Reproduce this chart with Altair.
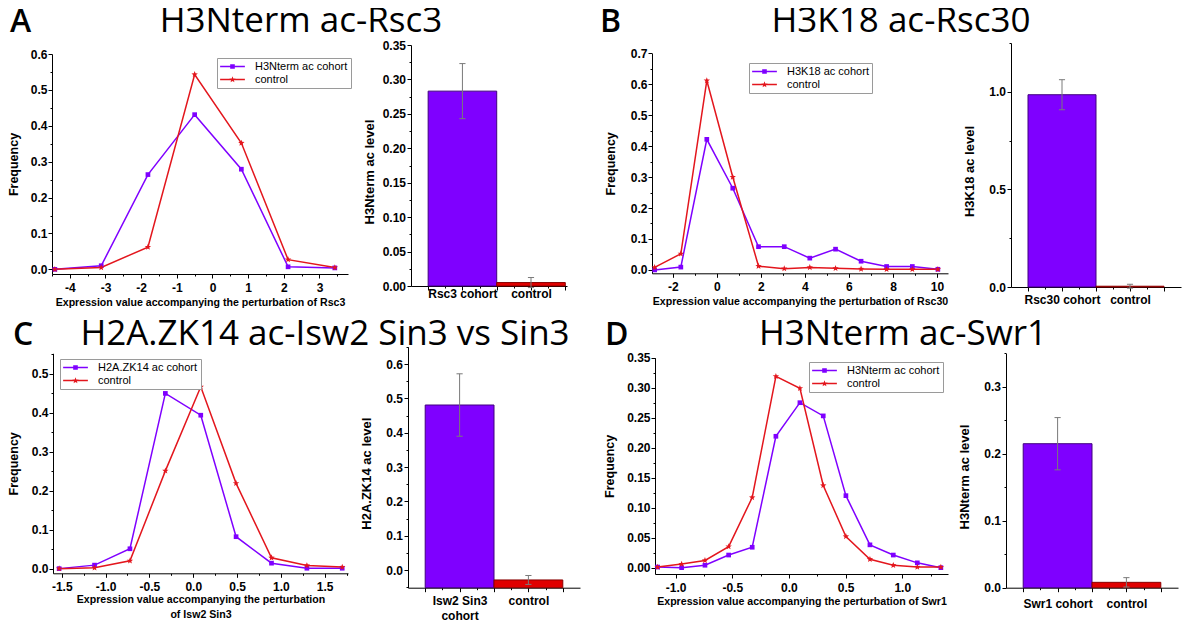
import json
import math
import altair as alt
import pandas as pd

FONT = "Liberation Sans"
TITLE_FONT = "Open Sans"
LINE_COLORS = ["#7F00FF", "#E3161D"]
BAR_FILLS = ["#7F00FF", "#E00000"]
BAR_EDGES = ["#40007F", "#8A0000"]
ERR_COLOR = "#7A7A7A"
M = 8  # page margin: layout numbers below are page pixels

# ---------------------------------------------------------------- data
# Panel A
A_letter = "A"
A_title = "H3Nterm ac-Rsc3"
A_series = ["H3Nterm ac cohort", "control"]
A_x = [-4.42, -3.12, -1.81, -0.50, 0.81, 2.12, 3.43]
A_cohort = [0.000, 0.010, 0.264, 0.431, 0.279, 0.007, 0.004]
A_control = [0.000, 0.005, 0.062, 0.543, 0.352, 0.027, 0.005]
A_xtitle = "Expression value accompanying the perturbation of Rsc3"
A_cats = ["Rsc3 cohort", "control"]
A_vals = [0.283, 0.005]
A_errs = [0.040, 0.0073]
A_ytitle = "H3Nterm ac level"

# Panel B
B_letter = "B"
B_title = "H3K18 ac-Rsc30"
B_series = ["H3K18 ac cohort", "control"]
B_x = [-2.83, -1.64, -0.46, 0.72, 1.89, 3.06, 4.22, 5.39, 6.55, 7.71, 8.88, 10.04]
B_cohort = [0.000, 0.009, 0.422, 0.264, 0.075, 0.075, 0.038, 0.067, 0.028, 0.011, 0.011, 0.002]
B_control = [0.008, 0.052, 0.612, 0.300, 0.012, 0.004, 0.008, 0.005, 0.003, 0.002, 0.002, 0.002]
B_xtitle = "Expression value accompanying the perturbation of Rsc30"
B_cats = ["Rsc30 cohort", "control"]
B_vals = [0.985, 0.004]
B_errs = [0.077, 0.010]
B_ytitle = "H3K18 ac level"

# Panel C
C_letter = "C"
C_title = "H2A.ZK14 ac-Isw2 Sin3 vs Sin3"
C_series = ["H2A.ZK14 ac cohort", "control"]
C_x = [-1.53, -1.126, -0.722, -0.318, 0.086, 0.489, 0.893, 1.297, 1.70]
C_cohort = [0.000, 0.009, 0.051, 0.450, 0.394, 0.082, 0.014, 0.001, 0.001]
C_control = [0.000, 0.002, 0.020, 0.251, 0.467, 0.219, 0.028, 0.008, 0.004]
C_xtitle = ["Expression value accompanying the perturbation", "of Isw2 Sin3"]
C_cats = ["Isw2 Sin3\ncohort", "control"]
C_vals = [0.481, -0.029]
C_errs = [0.091, 0.013]
C_ytitle = "H2A.ZK14 ac level"

# Panel D
D_letter = "D"
D_title = "H3Nterm ac-Swr1"
D_series = ["H3Nterm ac cohort", "control"]
D_x = [-1.159, -0.947, -0.741, -0.532, -0.324, -0.115, 0.097, 0.303, 0.503, 0.715, 0.921, 1.133, 1.341]
D_cohort = [0.001, 0.000, 0.004, 0.021, 0.034, 0.219, 0.275, 0.253, 0.120, 0.038, 0.021, 0.008, 0.000]
D_control = [0.001, 0.006, 0.012, 0.035, 0.117, 0.319, 0.299, 0.137, 0.052, 0.014, 0.004, 0.001, 0.001]
D_xtitle = "Expression value accompanying the perturbation of Swr1"
D_cats = ["Swr1 cohort", "control"]
D_vals = [0.215, 0.008]
D_errs = [0.039, 0.007]
D_ytitle = "H3Nterm ac level"


# ---------------------------------------------------------------- helpers
def star_path(r_out, r_in):
    pts = []
    for k in range(10):
        ang = -math.pi / 2 + k * math.pi / 5
        r = r_out if k % 2 == 0 else r_in
        pts.append((r * math.cos(ang), r * math.sin(ang)))
    return "M" + "L".join(f"{x:.3f},{y:.3f}" for x, y in pts) + "Z"


STAR = star_path(1.0, 0.42)
SEG = "M-2.25,-0.12L2.25,-0.12L2.25,0.12L-2.25,0.12Z"
LEG_SQUARE = SEG + "M-0.42,-0.42L0.42,-0.42L0.42,0.42L-0.42,0.42Z"
LEG_STAR = SEG + star_path(0.6, 0.25)


def ticks(lo, hi, step):
    n = int(round((hi - lo) / step))
    return [round(lo + i * step, 6) for i in range(n + 1)]


def major_test(step):
    return f"abs(datum.value / {step} - round(datum.value / {step})) < 1e-6"


def q_axis(lo, hi, minor, major, fmt, **kw):
    test = major_test(major)
    return alt.Axis(
        values=ticks(lo, hi, minor),
        format=fmt,
        labelExpr=f"{test} ? replace(datum.label, '\u2212', '-') : ''",
        tickSize={"condition": {"test": test, "value": 4}, "value": 2},
        labelOverlap=False, labelFlush=False, grid=False, **kw)


def rng(a, b):
    return [a - M, b - M]


def line_panel(series, xs, cohort, control, xtitle, L):
    x0, x1 = L["xr"]
    yb, yt = L["yr"]
    xsc = alt.Scale(domain=L["xdom"], range=rng(x0, x1), nice=False, zero=False)
    ysc = alt.Scale(domain=L["ydom"], range=rng(yb, yt), nice=False, zero=False)
    xaxis = q_axis(*L["xticks"], L["xfmt"], orient="bottom", offset=(yb - M) - H,
                   title=xtitle, titleFontSize=10.6,
                   titleX=(x0 + x1) / 2 - M, titleY=L["xty"], titleBaseline="top",
                   titleLineHeight=15, labelPadding=4)
    yaxis = q_axis(*L["yticks"], L["yfmt"], orient="left", offset=-(x0 - M),
                   title="Frequency", titleFontSize=12.5,
                   titleX=L["ytx"], titleY=(yb + yt) / 2 - M, titleAngle=270,
                   titleBaseline="bottom", labelPadding=1)
    X_ax = alt.X("x:Q", scale=xsc, axis=xaxis)
    Y_ax = alt.Y("y:Q", scale=ysc, axis=yaxis)
    X = alt.X("x:Q", scale=xsc, axis=None)
    Y = alt.Y("y:Q", scale=ysc, axis=None)
    d_coh = pd.DataFrame({"x": xs, "y": cohort, "series": series[0]})
    d_ctl = pd.DataFrame({"x": xs, "y": control, "series": series[1]})
    units = [
        alt.Chart(d_coh).mark_line(color=LINE_COLORS[0], strokeWidth=1.5).encode(x=X_ax, y=Y_ax),
        alt.Chart(d_ctl).mark_line(color=LINE_COLORS[1], strokeWidth=1.5).encode(x=X, y=Y),
        alt.Chart(d_coh).mark_point(shape="square", filled=True, size=22, opacity=1,
                                    color=LINE_COLORS[0]).encode(x=X, y=Y),
        alt.Chart(d_ctl).mark_point(shape=STAR, filled=True, size=45, opacity=1,
                                    color=LINE_COLORS[1]).encode(x=X, y=Y),
    ]
    leg = alt.Legend(title=None, orient="none", legendX=L["leg"][0] - M, legendY=L["leg"][1] - M,
                     labelFont=FONT, labelFontSize=11, labelColor="black",
                     symbolSize=121, symbolStrokeWidth=0, symbolOffset=7, labelOffset=17,
                     padding=3, rowPadding=1, strokeColor="#9a9a9a", fillColor="white",
                     symbolOpacity=1)
    d_all = pd.concat([d_coh, d_ctl], ignore_index=True)
    units.append(
        alt.Chart(d_all).transform_filter("false").mark_point(filled=True, opacity=1).encode(
            x=X, y=Y,
            color=alt.Color("series:N", scale=alt.Scale(domain=series, range=LINE_COLORS),
                            legend=leg),
            shape=alt.Shape("series:N",
                            scale=alt.Scale(domain=series, range=[LEG_SQUARE, LEG_STAR]),
                            legend=leg)))
    return units


def lab(c):
    parts = c.split("\n")
    return json.dumps(parts) if len(parts) > 1 else json.dumps(c)


def bar_panel(cats, vals, errs, ytitle, L):
    k = len(cats)
    df = pd.DataFrame({"cat": cats, "idx": list(range(1, k + 1)), "val": vals, "err": errs})
    base = alt.Chart(df).transform_calculate(
        x0="datum.idx - 0.5", x1="datum.idx + 0.5",
        lo="datum.val - datum.err", hi="datum.val + datum.err",
        c0="datum.idx - 0.045", c1="datum.idx + 0.045")
    x0, x1 = L["xr"]
    yb, yt = L["yr"]
    xs = alt.Scale(domain=L["xdom"], range=rng(x0, x1), nice=False, zero=False)
    ys = alt.Scale(domain=L["ydom"], range=rng(yb, yt), nice=False, zero=False)
    label_expr = "".join(f"datum.value == {i + 1} ? {lab(c)} : " for i, c in enumerate(cats)) + "''"
    xaxis = alt.Axis(values=ticks(0.5, k + 0.5, 0.25), labelExpr=label_expr, orient="bottom",
                     offset=(yb - M) - H,
                     tickSize={"condition": {"test": major_test(0.5), "value": 4}, "value": 2},
                     title=None, labelPadding=L["lpad"], labelOverlap=False, labelFlush=False,
                     labelLineHeight=15, grid=False)
    yaxis = q_axis(*L["yticks"], L["yfmt"], orient="left", offset=-(x0 - M),
                   title=ytitle, titleFontSize=13,
                   titleX=-35, titleY=(yb + yt) / 2 - M + 6, titleAngle=270, titleBaseline="bottom",
                   labelPadding=1.5)
    bars = base.mark_bar(strokeWidth=1, opacity=1).encode(
        x=alt.X("x0:Q", scale=xs, axis=xaxis), x2="x1:Q",
        y=alt.Y("val:Q", scale=ys, axis=yaxis), y2=alt.datum(L["ydom"][0]),
        color=alt.Color("cat:N", scale=alt.Scale(domain=cats, range=BAR_FILLS), legend=None),
        stroke=alt.Stroke("cat:N", scale=alt.Scale(domain=cats, range=BAR_EDGES), legend=None))
    stem = base.mark_rule(color=ERR_COLOR, strokeWidth=1).encode(
        x=alt.X("idx:Q", scale=xs, axis=None),
        y=alt.Y("lo:Q", scale=ys, axis=None), y2="hi:Q")
    cap_hi = base.mark_rule(color=ERR_COLOR, strokeWidth=1).encode(
        x=alt.X("c0:Q", scale=xs, axis=None), x2="c1:Q",
        y=alt.Y("hi:Q", scale=ys, axis=None))
    cap_lo = base.mark_rule(color=ERR_COLOR, strokeWidth=1).encode(
        x=alt.X("c0:Q", scale=xs, axis=None), x2="c1:Q",
        y=alt.Y("lo:Q", scale=ys, axis=None))
    return [bars, stem, cap_hi, cap_lo]


def text_layer(txt, x, y, size, weight, align):
    return alt.Chart(pd.DataFrame({"t": [txt]})).mark_text(
        font=TITLE_FONT, fontSize=size, fontWeight=weight, align=align, baseline="alphabetic",
        color="black").encode(text="t:N", x=alt.value(x - M), y=alt.value(y - M))


# ---------------------------------------------------------------- layout (page px)
W, H = 1200 - 2 * M, 635 - 2 * M

LA = dict(xr=(52, 348), yr=(274, 54), xdom=[-4.5, 3.8], xticks=(-4.5, 3.5, 0.5, 1), xfmt=".0f",
          xty=23.5, ydom=[-0.013, 0.6], yticks=(0, 0.6, 0.05, 0.1), yfmt=".1f", ytx=-32,
          leg=(217, 58))
LB = dict(xr=(652, 948), yr=(273.3, 53.3), xdom=[-2.95, 10.5], xticks=(-2, 10, 1, 2), xfmt=".0f",
          xty=23.5, ydom=[-0.011, 0.7], yticks=(0, 0.7, 0.05, 0.1), yfmt=".1f", ytx=-35,
          leg=(749, 63))
LC = dict(xr=(53, 348), yr=(573.3, 353.3), xdom=[-1.6, 1.766], xticks=(-1.5, 1.75, 0.25, 0.5),
          xfmt=".1f", xty=21, ydom=[-0.012, 0.553], yticks=(0, 0.55, 0.05, 0.1), yfmt=".1f",
          ytx=-33, leg=(60, 359))
LD = dict(xr=(655, 948), yr=(574, 357.7), xdom=[-1.182, 1.404], xticks=(-1.0, 1.25, 0.25, 0.5),
          xfmt=".1f", xty=22, ydom=[-0.0106, 0.35], yticks=(0, 0.35, 0.025, 0.05), yfmt=".2f",
          ytx=-39, leg=(809, 362))

BA = dict(xr=(411, 567), yr=(286, 45), xdom=[0.25, 2.525], ydom=[0, 0.35],
          yticks=(0, 0.35, 0.025, 0.05), yfmt=".2f", lpad=-1.5)
BB = dict(xr=(1011, 1181), yr=(287, 43), xdom=[0.25, 2.75], ydom=[0, 1.25],
          yticks=(0, 1.25, 0.25, 0.5), yfmt=".1f", lpad=3)
BC = dict(xr=(408, 580), yr=(587.7, 346.7), xdom=[0.25, 2.75], ydom=[-0.0516, 0.651],
          yticks=(-0.05, 0.65, 0.05, 0.1), yfmt=".1f", lpad=4)
BD = dict(xr=(1006, 1178), yr=(587.7, 353.3), xdom=[0.25, 2.75], ydom=[0, 0.35],
          yticks=(0, 0.35, 0.05, 0.1), yfmt=".1f", lpad=7)

units = []
units += line_panel(A_series, A_x, A_cohort, A_control, A_xtitle, LA)
units += bar_panel(A_cats, A_vals, A_errs, A_ytitle, BA)
units += line_panel(B_series, B_x, B_cohort, B_control, B_xtitle, LB)
units += bar_panel(B_cats, B_vals, B_errs, B_ytitle, BB)
units += line_panel(C_series, C_x, C_cohort, C_control, C_xtitle, LC)
units += bar_panel(C_cats, C_vals, C_errs, C_ytitle, BC)
units += line_panel(D_series, D_x, D_cohort, D_control, D_xtitle, LD)
units += bar_panel(D_cats, D_vals, D_errs, D_ytitle, BD)
units += [
    text_layer(A_letter, 10, 32, 32, 600, "left"),
    text_layer(A_title, 301, 32, 35, 400, "center"),
    text_layer(B_letter, 600, 32, 32, 600, "left"),
    text_layer(B_title, 901, 32, 35, 400, "center"),
    text_layer(C_letter, 13, 345, 32, 600, "left"),
    text_layer(C_title, 325, 345, 35, 400, "center"),
    text_layer(D_letter, 605, 345, 32, 600, "left"),
    text_layer(D_title, 903, 345, 35, 400, "center"),
]

chart = alt.layer(*units).resolve_scale(
    x="independent", y="independent", color="independent", shape="independent",
    stroke="independent"
).resolve_axis(x="independent", y="independent").resolve_legend(
    color="independent", shape="independent"
).properties(
    width=W, height=H, padding=0, background="white", autosize=alt.AutoSizeParams(type="none")
).configure_view(stroke=None).configure_axis(
    domainColor="black", tickColor="black", labelColor="black", titleColor="black",
    labelFont=FONT, titleFont=FONT, labelFontWeight="bold", titleFontWeight="bold",
    labelFontSize=12, domainWidth=1, tickWidth=1, grid=False
)

chart.save("out.html", embed_options={"renderer": "svg", "actions": False})
